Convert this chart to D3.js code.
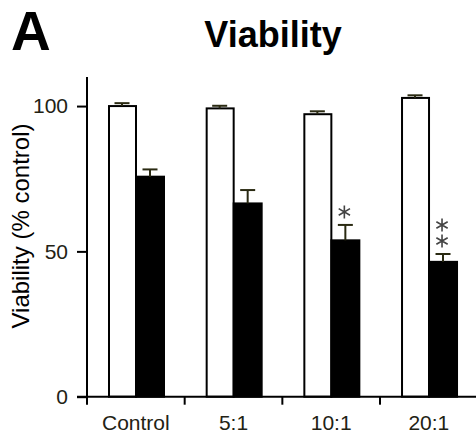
<!DOCTYPE html>
<html><head><meta charset="utf-8">
<script src="https://cdn.jsdelivr.net/npm/d3@7"></script>
<style>html,body{margin:0;padding:0;background:#fff;}svg{display:block;}</style>
</head><body>
<script>
const categories = ["Control", "5:1", "10:1", "20:1"];
const seriesKeys = ["white", "black"];
const whiteValues = [100, 99.2, 97.2, 102.8];
const whiteErrors = [1.0, 0.9, 1.0, 0.9];
const blackValues = [75.7, 66.5, 53.8, 46.4];
const blackErrors = [2.5, 4.6, 5.3, 2.7];
const starCounts = [0, 0, 1, 2];
const yTicks = [0, 50, 100];

const W = 476, H = 438;
const svg = d3.select("body").append("svg").attr("width", W).attr("height", H);

const y = d3.scaleLinear().domain([0, 110]).range([396.7, 77]);
const x0 = d3.scaleBand().domain(categories).range([87, 477.7]).padding(0);
const x1 = d3.scaleBand().domain(seriesKeys).range([21, 77]).padding(0);

const rows = categories.map((c, i) => ({
  cat: c,
  bars: [
    {key: "white", v: whiteValues[i], e: whiteErrors[i]},
    {key: "black", v: blackValues[i], e: blackErrors[i]}
  ],
  stars: starCounts[i]
}));

const errColor = "#2a2a12";
const g = svg.append("g");
const groups = g.selectAll("g.grp").data(rows).join("g")
  .attr("transform", d => `translate(${x0(d.cat)},0)`);

// bars
groups.selectAll("rect").data(d => d.bars).join("rect")
  .attr("x", d => x1(d.key) + (d.key === "white" ? 1 : 0))
  .attr("y", d => y(d.v))
  .attr("width", d => x1.bandwidth() - (d.key === "white" ? 1 : 0))
  .attr("height", d => y(0) - y(d.v))
  .attr("fill", d => d.key === "white" ? "#fff" : "#000")
  .attr("stroke", "#000")
  .attr("stroke-width", 2);

// error bars (upper only)
const capW = 15;
groups.selectAll("line.err").data(d => d.bars).join("line")
  .attr("class", "err")
  .attr("x1", d => x1(d.key) + x1.bandwidth() / 2)
  .attr("x2", d => x1(d.key) + x1.bandwidth() / 2)
  .attr("y1", d => y(d.v))
  .attr("y2", d => y(d.v + d.e))
  .attr("stroke", errColor).attr("stroke-width", 2);
groups.selectAll("line.cap").data(d => d.bars).join("line")
  .attr("class", "cap")
  .attr("x1", d => x1(d.key) + x1.bandwidth() / 2 - capW / 2)
  .attr("x2", d => x1(d.key) + x1.bandwidth() / 2 + capW / 2)
  .attr("y1", d => y(d.v + d.e))
  .attr("y2", d => y(d.v + d.e))
  .attr("stroke", errColor).attr("stroke-width", 2);

// significance stars
const starSym = d3.symbol().type(d3.symbolAsterisk).size(120);
groups.each(function(d, i) {
  const b = d.bars[1];
  const top = y(b.v + b.e);
  const cx = x1("black") + x1.bandwidth() / 2 - 1;
  for (let k = 0; k < d.stars; k++) {
    d3.select(this).append("path")
      .attr("d", starSym())
      .attr("transform", `translate(${cx},${top - 13 - k * 16})`)
      .attr("fill", "none")
      .attr("stroke", "#444")
      .attr("stroke-width", 1.6);
  }
});

// axes
const font = "Liberation Sans, Arial, Helvetica, sans-serif";
const tickColor = "#222214";
const yAxis = d3.axisLeft(y).tickValues(yTicks).tickSize(10).tickPadding(9).tickSizeOuter(0);
const ya = svg.append("g").attr("transform", "translate(87,0)").call(yAxis);
ya.select(".domain").attr("stroke", "#000").attr("stroke-width", 2)
  .attr("d", `M0,${y(110)}V${y(0) + 8}`);
ya.selectAll(".tick line").attr("stroke", "#000").attr("stroke-width", 2);
ya.selectAll(".tick text").attr("font-family", font).attr("font-size", 21)
  .attr("fill", tickColor);

// x axis with ticks at band edges
const xa = svg.append("g");
xa.append("line").attr("x1", 77).attr("x2", 477.7)
  .attr("y1", y(0)).attr("y2", y(0)).attr("stroke", "#000").attr("stroke-width", 2);
const edges = categories.slice(1).map(c => x0(c));
xa.selectAll("line.xt").data(edges).join("line").attr("class", "xt")
  .attr("x1", d => d).attr("x2", d => d)
  .attr("y1", y(0)).attr("y2", y(0) + 8)
  .attr("stroke", "#000").attr("stroke-width", 2);
xa.selectAll("text").data(categories).join("text")
  .attr("x", d => x0(d) + x0.bandwidth() / 2)
  .attr("y", 430)
  .attr("text-anchor", "middle")
  .attr("font-family", font).attr("font-size", 21)
  .attr("fill", tickColor)
  .text(d => d);

// y axis label
svg.append("text")
  .attr("transform", "translate(29,226) rotate(-90)")
  .attr("text-anchor", "middle")
  .attr("font-family", font).attr("font-size", 24)
  .attr("fill", "#000")
  .text("Viability (% control)");

// title and panel letter
svg.append("text").attr("x", 273).attr("y", 46.5).attr("text-anchor", "middle")
  .attr("font-family", font).attr("font-weight", "bold").attr("font-size", 36)
  .text("Viability");
svg.append("text").attr("x", 11).attr("y", 50)
  .attr("font-family", font).attr("font-weight", "bold").attr("font-size", 55)
  .text("A");
</script>
</body></html>
